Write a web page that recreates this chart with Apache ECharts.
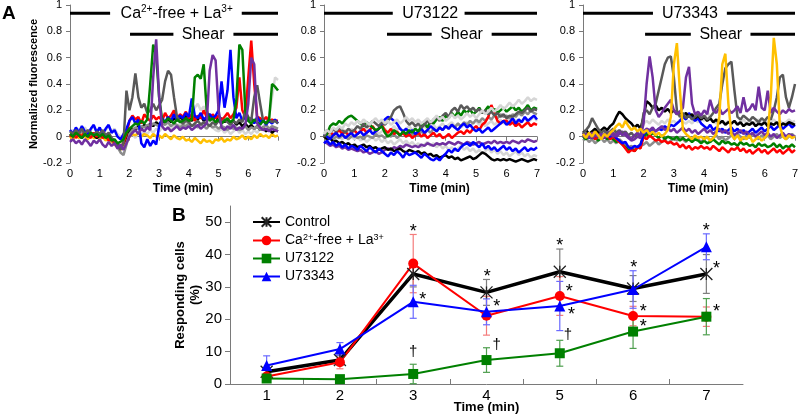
<!DOCTYPE html>
<html><head><meta charset="utf-8">
<script src="https://cdn.jsdelivr.net/npm/echarts@6/dist/echarts.min.js"></script>
<style>html,body{margin:0;padding:0;background:#fff}#c{width:800px;height:416px}</style>
</head><body><div id="c"></div>
<script>
// ---------- time axis of the fluorescence traces (min) ----------
const TIME = [0,0.1,0.2,0.3,0.4,0.5,0.6,0.7,0.8,0.9,1,1.1,1.2,1.3,1.4,1.5,1.6,1.7,1.8,1.9,2,2.1,2.2,2.3,2.4,2.5,2.6,2.7,2.8,2.9,3,3.1,3.2,3.3,3.4,3.5,3.6,3.7,3.8,3.9,4,4.1,4.2,4.3,4.4,4.5,4.6,4.7,4.8,4.9,5,5.1,5.2,5.3,5.4,5.5,5.6,5.7,5.8,5.9,6,6.1,6.2,6.3,6.4,6.5,6.6,6.7,6.8,6.9,7];

// ---------- Panel A1: Ca2+-free + La3+ ----------
const P1_LGRAY = [0.03,0.05,0.02,0.06,0.04,0.07,0.03,0.05,0.08,0.04, 0.06,0.03,0.05,0.08,0.04,0.06,0.02,0.00,-0.02,0.03, 0.00,0.02,-0.01,0.03,0.01,0.04,0.02,0.05,0.03,0.06, 0.04,0.07,0.05,0.08,0.06,0.09,0.07,0.10,0.08,0.11, 0.09,0.15,0.22,0.25,0.20,0.23,0.18,0.10,0.07,0.05, 0.04,0.06,0.03,0.05,0.02,0.04,0.06,0.03,0.05,0.02, 0.04,0.02,0.05,0.03,0.06,0.08,0.10,0.15,0.30,0.45, 0.43];
const P1_ORANGE = [0.00,-0.02,0.01,-0.01,0.02,0.00,-0.02,0.01,-0.01,0.00, -0.02,0.00,-0.03,-0.01,-0.04,-0.06,-0.08,-0.10,-0.07,-0.03, 0.00,0.02,0.01,0.03,0.00,0.02,0.01,-0.01,0.02,0.00, 0.01,-0.01,0.02,0.00,-0.02,0.01,-0.01,-0.02,0.00,-0.03, -0.02,-0.04,-0.01,-0.03,-0.05,-0.02,-0.04,-0.03,-0.05,-0.02, -0.03,-0.01,-0.04,-0.02,-0.03,0.00,-0.02,-0.01,0.01,-0.02, 0.00,-0.02,0.01,-0.01,0.02,0.00,0.01,-0.01,0.02,0.00, 0.01];
const P1_BLACK = [0.02,0.00,0.03,0.01,-0.01,0.02,0.00,0.03,0.01,-0.01, 0.01,0.03,0.00,0.02,-0.02,-0.04,-0.06,-0.08,-0.05,0.00, 0.04,0.06,0.05,0.08,0.06,0.09,0.07,0.10,0.08,0.11, 0.09,0.12,0.10,0.13,0.11,0.14,0.12,0.15,0.13,0.16, 0.14,0.12,0.15,0.13,0.16,0.12,0.14,0.17,0.13,0.15, 0.12,0.14,0.11,0.13,0.10,0.12,0.09,0.11,0.08,0.10, 0.07,0.09,0.06,0.08,0.05,0.07,0.04,0.06,0.03,0.05, 0.04];
const P1_MGRAY = [0.01,0.03,0.00,0.02,0.04,0.01,0.03,0.00,0.02,0.01, 0.03,0.00,0.02,-0.01,-0.03,-0.05,-0.08,-0.12,-0.14,-0.06, 0.02,0.05,0.07,0.06,0.08,0.07,0.09,0.08,0.10,0.09, 0.08,0.10,0.09,0.11,0.08,0.10,0.09,0.07,0.09,0.08, 0.10,0.08,0.09,0.07,0.10,0.08,0.06,0.09,0.07,0.08, 0.06,0.08,0.07,0.05,0.08,0.06,0.07,0.05,0.06,0.08, 0.05,0.07,0.06,0.08,0.05,0.07,0.09,0.06,0.08,0.07, 0.06];
const P1_RED = [0.00,0.03,-0.01,0.02,0.00,0.04,0.01,-0.01,0.03,0.00, 0.02,-0.01,0.01,-0.03,-0.02,-0.05,-0.07,-0.08,-0.05,0.02, 0.12,0.16,0.13,0.15,0.10,0.17,0.14,0.12,0.16,0.13, 0.15,0.12,0.18,0.14,0.16,0.20,0.13,0.17,0.15,0.19, 0.14,0.17,0.12,0.16,0.14,0.20,0.15,0.13,0.17,0.14, 0.16,0.12,0.15,0.18,0.14,0.17,0.22,0.45,0.20,0.15, 0.45,0.73,0.40,0.15,0.14,0.12,0.15,0.11,0.13,0.12, 0.12];
const P1_BLUE = [0.05,0.02,0.07,0.03,0.08,0.04,0.01,0.06,0.09,0.03, 0.07,0.02,0.06,0.09,0.03,0.05,0.00,-0.02,0.02,0.06, 0.12,0.15,0.10,0.13,-0.05,-0.08,-0.02,-0.07,-0.03,-0.06, 0.08,0.14,0.11,0.15,0.12,0.17,0.13,0.16,0.14,0.18, 0.15,0.29,0.16,0.14,0.18,0.13,0.15,0.17,0.14,0.16, 0.20,0.42,0.22,0.35,0.66,0.30,0.14,0.18,0.12,0.15, 0.12,0.14,0.10,0.15,0.11,0.13,0.09,0.12,0.10,0.13, 0.10];
const P1_GREEN = [0.02,0.00,0.03,0.01,-0.01,0.02,0.00,0.03,0.01,0.02, 0.00,0.02,-0.01,0.01,-0.03,-0.02,-0.05,-0.04,-0.02,0.03, 0.06,0.08,0.10,0.09,0.12,0.10,0.13,0.40,0.70,0.62, 0.30,0.13,0.11,0.14,0.12,0.10,0.13,0.11,0.12,0.14, 0.12,0.13,0.45,0.47,0.44,0.55,0.20,0.12,0.14,0.11, 0.13,0.10,0.12,0.14,0.11,0.13,0.28,0.70,0.66,0.20, 0.12,0.10,0.13,0.11,0.09,0.12,0.10,0.13,0.40,0.38, 0.35];
const P1_PURPLE = [-0.04,-0.02,-0.05,-0.03,-0.06,-0.02,-0.04,-0.07,-0.03,-0.05, -0.02,-0.06,-0.08,-0.04,-0.07,-0.05,-0.09,-0.06,-0.10,-0.05, 0.00,0.03,0.05,0.02,0.06,0.04,0.07,0.05,0.45,0.74, 0.30,0.08,0.05,0.07,0.04,0.06,0.08,0.05,0.07,0.06, 0.08,0.05,0.07,0.09,0.06,0.08,0.10,0.50,0.62,0.58, 0.20,0.07,0.05,0.08,0.06,0.09,0.05,0.07,0.06,0.09, 0.25,0.60,0.55,0.10,0.07,0.05,0.06,0.04,0.06,0.05, 0.04];
const P1_DGRAY = [0.04,0.02,0.05,0.03,0.06,0.02,0.05,0.03,0.01,0.04, 0.02,0.05,0.01,0.03,-0.01,-0.03,-0.06,-0.10,-0.05,0.35, 0.20,0.30,0.48,0.30,0.22,0.25,0.18,0.20,0.25,0.20, 0.24,0.28,0.42,0.50,0.47,0.30,0.15,0.12,0.10,0.12, 0.11,0.08,0.10,0.12,0.09,0.11,0.10,0.08,0.11,0.09, 0.12,0.10,0.13,0.11,0.09,0.12,0.10,0.13,0.11,0.20, 0.15,0.12,0.30,0.39,0.25,0.12,0.10,0.13,0.11,0.12, 0.10];

// ---------- Panel A2: U73122 ----------
const P2_LGRAY2 = [0.00,-0.02,0.01,-0.01,0.02,0.00,-0.02,0.01,-0.01,0.00, -0.02,0.00,-0.03,-0.01,-0.04,-0.02,0.00,-0.03,-0.01,-0.04, -0.02,-0.05,-0.03,-0.06,-0.04,-0.02,-0.05,-0.03,-0.06,-0.04, -0.07,-0.05,-0.08,-0.06,-0.04,-0.07,-0.05,-0.08,-0.06,-0.09, -0.07,-0.10,-0.08,-0.11,-0.09,-0.07,-0.10,-0.08,-0.11,-0.09, -0.12,-0.10,-0.13,-0.11,-0.09,-0.12,-0.10,-0.13,-0.11,-0.14, -0.12,-0.15,-0.13,-0.11,-0.14,-0.12,-0.15,-0.13,-0.16,-0.14, -0.15];
const P2_LGRAY3 = [0.04,0.02,0.05,0.03,0.06,0.04,0.02,0.05,0.03,0.06, 0.04,0.02,0.05,0.07,0.04,0.06,0.03,0.05,0.02,0.04, 0.06,0.03,0.05,0.08,0.05,0.07,0.04,0.06,0.08,0.05, 0.07,0.09,0.06,0.08,0.05,0.07,0.09,0.06,0.08,0.10, 0.07,0.09,0.11,0.08,0.10,0.07,0.09,0.11,0.08,0.10, 0.12,0.09,0.11,0.08,0.10,0.12,0.09,0.11,0.13,0.10, 0.12,0.14,0.11,0.13,0.10,0.12,0.14,0.11,0.13,0.15, 0.12];
const P2_MGRAY = [0.00,-0.01,0.01,-0.02,0.00,-0.01,0.01,0.00,-0.02,0.00, 0.01,-0.01,0.00,-0.02,0.01,0.00,-0.01,0.02,0.00,0.01, -0.01,0.01,0.00,0.02,-0.01,0.01,0.03,0.00,0.02,0.01, 0.03,0.01,0.04,0.02,0.05,0.03,0.06,0.04,0.07,0.05, 0.08,0.06,0.09,0.07,0.10,0.08,0.11,0.09,0.12,0.10, 0.13,0.11,0.14,0.12,0.15,0.13,0.16,0.14,0.17,0.15, 0.16,0.14,0.17,0.15,0.18,0.16,0.19,0.17,0.20,0.18, 0.17];
const P2_PURPLE = [-0.04,-0.05,-0.07,-0.06,-0.08,-0.07,-0.09,-0.08,-0.10,-0.09, -0.10,-0.11,-0.10,-0.12,-0.11,-0.13,-0.12,-0.11,-0.13,-0.12, -0.10,-0.09,-0.10,-0.08,-0.09,-0.07,-0.08,-0.06,-0.07,-0.08, -0.07,-0.08,-0.06,-0.07,-0.05,-0.06,-0.07,-0.05,-0.06,-0.05, -0.06,-0.04,-0.05,-0.06,-0.04,-0.05,-0.06,-0.04,-0.05,-0.06, -0.05,-0.04,-0.06,-0.05,-0.04,-0.05,-0.03,-0.05,-0.04,-0.05, -0.04,-0.05,-0.03,-0.04,-0.05,-0.03,-0.04,-0.02,-0.03,-0.04, -0.03];
const P2_BLACK = [0.00,-0.02,-0.01,-0.04,-0.03,-0.05,-0.04,-0.06,-0.05,-0.07, -0.06,-0.08,-0.07,-0.06,-0.08,-0.07,-0.09,-0.08,-0.10,-0.09, -0.08,-0.10,-0.09,-0.11,-0.10,-0.09,-0.11,-0.12,-0.10,-0.11, -0.12,-0.11,-0.13,-0.12,-0.14,-0.13,-0.15,-0.14,-0.16,-0.15, -0.14,-0.16,-0.15,-0.17,-0.16,-0.18,-0.17,-0.16,-0.15,-0.17, -0.16,-0.14,-0.12,-0.13,-0.15,-0.17,-0.18,-0.17,-0.18,-0.17, -0.18,-0.17,-0.18,-0.19,-0.18,-0.17,-0.18,-0.19,-0.18,-0.17, -0.18];
const P2_BLUE2 = [-0.05,-0.03,-0.06,-0.04,-0.07,-0.05,-0.08,-0.06,-0.09,-0.07, -0.08,-0.10,-0.07,-0.09,-0.11,-0.08,-0.10,-0.12,-0.09,-0.11, -0.13,-0.15,-0.12,-0.14,-0.11,-0.13,-0.16,-0.12,-0.14,-0.13, -0.12,-0.14,-0.16,-0.13,-0.15,-0.17,-0.18,-0.16,-0.18,-0.15, -0.13,-0.10,-0.12,-0.09,-0.11,-0.08,-0.06,-0.05,-0.07,-0.04, -0.06,-0.08,-0.05,-0.09,-0.07,-0.10,-0.08,-0.11,-0.09,-0.07, -0.10,-0.08,-0.11,-0.09,-0.12,-0.10,-0.08,-0.11,-0.09,-0.10, -0.08];
const P2_RED = [0.00,0.02,0.04,0.01,0.03,0.05,0.02,0.04,0.01,0.03, 0.05,0.02,0.04,0.06,0.03,0.05,0.08,0.04,0.06,0.09, 0.05,0.03,0.06,0.02,0.04,0.01,0.03,0.00,0.02,-0.01, 0.01,0.03,0.00,0.02,-0.01,0.01,0.03,0.00,0.02,-0.01, 0.00,0.02,-0.01,0.01,0.03,0.04,0.02,0.05,0.03,0.06, 0.08,0.05,0.09,0.11,0.15,0.24,0.18,0.12,0.10,0.12, 0.12,0.09,0.11,0.08,0.10,0.07,0.09,0.11,0.08,0.10, 0.09];
const P2_BLUE1 = [0.02,0.00,-0.02,0.01,0.03,0.00,0.02,-0.01,0.01,0.03, 0.00,0.02,0.04,0.01,0.03,0.05,0.02,0.04,0.06,0.10, 0.13,0.15,0.14,0.12,0.10,0.06,0.04,0.06,0.03,0.05, 0.02,0.04,0.06,0.03,0.05,0.08,0.06,0.04,0.07,0.05, 0.08,0.06,0.09,0.07,0.05,0.08,0.10,0.07,0.09,0.06, 0.04,0.06,0.03,0.05,0.07,0.04,0.06,0.08,0.10,0.12, 0.09,0.11,0.14,0.10,0.13,0.11,0.15,0.12,0.14,0.16, 0.13];
const P2_GREEN = [0.00,0.02,0.08,0.10,0.09,0.12,0.10,0.13,0.15,0.16, 0.14,0.12,0.10,0.08,0.11,0.09,0.07,0.05,0.06,0.08, 0.03,0.00,0.02,0.05,0.03,0.01,0.04,0.02,0.05,0.03, 0.06,0.04,0.08,0.10,0.07,0.12,0.10,0.13,0.15,0.12, 0.16,0.14,0.18,0.15,0.19,0.16,0.20,0.18,0.21,0.17, 0.19,0.22,0.18,0.20,0.23,0.19,0.21,0.18,0.20,0.22, 0.19,0.21,0.23,0.20,0.22,0.19,0.21,0.24,0.20,0.22, 0.21];
const P2_DGRAY = [0.00,0.05,0.03,0.06,0.04,0.07,0.05,0.03,0.06,0.04, 0.05,0.08,0.06,0.10,0.07,0.09,0.12,0.10,0.08,0.11, 0.09,0.12,0.15,0.20,0.22,0.23,0.18,0.12,0.09,0.11, 0.08,0.10,0.07,0.09,0.12,0.10,0.13,0.15,0.12,0.16, 0.18,0.15,0.20,0.22,0.19,0.24,0.21,0.23,0.20,0.22, 0.19,0.21,0.18,0.20,0.17,0.19,0.16,0.18,0.15,0.17, 0.14,0.16,0.15,0.17,0.19,0.18,0.20,0.22,0.19,0.21, 0.20];
const P2_LGRAY1 = [0.02,0.05,0.03,0.07,0.05,0.08,0.06,0.10,0.08,0.11, 0.09,0.12,0.10,0.13,0.11,0.09,0.12,0.14,0.11,0.13, 0.10,0.12,0.09,0.11,0.13,0.10,0.12,0.15,0.12,0.14, 0.11,0.13,0.10,0.12,0.14,0.11,0.13,0.16,0.13,0.15, 0.12,0.14,0.17,0.14,0.16,0.13,0.15,0.18,0.15,0.17, 0.14,0.17,0.20,0.17,0.19,0.22,0.19,0.21,0.24,0.21, 0.23,0.26,0.23,0.25,0.28,0.25,0.27,0.30,0.27,0.29, 0.28];

// ---------- Panel A3: U73343 ----------
const P3_MGRAY = [-0.03,-0.01,-0.04,-0.02,-0.05,-0.03,-0.01,-0.04,-0.02,-0.05, -0.03,-0.05,-0.02,-0.04,-0.06,-0.08,-0.07,-0.09,-0.08,-0.07, -0.06,-0.04,-0.07,-0.05,-0.03,-0.06,-0.04,-0.02,-0.05,-0.03, -0.01,-0.03,0.00,-0.02,-0.04,-0.01,-0.03,0.00,-0.02,-0.04, -0.02,0.00,-0.03,-0.01,0.01,-0.02,0.00,-0.03,-0.01,0.01, -0.01,0.02,0.00,-0.02,0.01,-0.01,0.02,0.00,-0.02,0.01, -0.01,0.01,-0.02,0.00,0.02,-0.01,0.01,-0.02,0.00,0.02, 0.00];
const P3_GREEN = [0.00,-0.02,0.01,-0.01,0.00,-0.03,-0.01,0.01,-0.02,0.00, -0.02,-0.04,-0.03,-0.06,-0.08,-0.10,-0.09,-0.11,-0.08,-0.06, 0.00,0.02,0.00,0.03,0.01,-0.01,0.01,-0.02,0.00,-0.01, -0.02,0.00,-0.03,-0.01,-0.03,-0.02,-0.04,-0.02,-0.03,-0.05, -0.03,-0.05,-0.04,-0.02,-0.04,-0.06,-0.03,-0.05,-0.04,-0.06, -0.05,-0.07,-0.04,-0.06,-0.05,-0.07,-0.06,-0.08,-0.05,-0.07, -0.06,-0.08,-0.07,-0.05,-0.08,-0.06,-0.09,-0.07,-0.08,-0.06, -0.08];
const P3_RED = [0.00,0.02,-0.01,0.01,-0.02,0.00,0.02,-0.01,0.01,-0.02, 0.00,-0.02,-0.04,-0.06,-0.09,-0.12,-0.10,-0.11,-0.08,-0.09, 0.00,-0.02,0.01,-0.01,-0.03,-0.02,-0.04,-0.03,-0.05,-0.04, -0.06,-0.05,-0.08,-0.06,-0.09,-0.07,-0.10,-0.08,-0.09,-0.07, -0.09,-0.08,-0.10,-0.07,-0.09,-0.11,-0.08,-0.10,-0.12,-0.09, -0.10,-0.08,-0.11,-0.09,-0.12,-0.10,-0.13,-0.11,-0.09,-0.12, -0.10,-0.13,-0.11,-0.09,-0.12,-0.10,-0.13,-0.11,-0.09,-0.12, -0.10];
const P3_LGRAY = [0.03,0.05,0.02,0.04,0.06,0.03,0.05,0.02,0.04,0.01, 0.03,0.05,0.02,0.04,0.01,0.00,-0.02,0.00,0.01,0.00, 0.10,0.12,0.10,0.13,0.11,0.09,0.12,0.10,0.13,0.11, 0.12,0.10,0.13,0.11,0.10,0.12,0.10,0.13,0.11,0.14, 0.12,0.20,0.14,0.12,0.10,0.13,0.11,0.10,0.12,0.10, 0.12,0.10,0.11,0.13,0.10,0.12,0.10,0.11,0.13,0.10, 0.12,0.10,0.11,0.13,0.10,0.12,0.10,0.11,0.13,0.11, 0.12];
const P3_BLUE = [0.00,0.02,-0.01,0.01,0.03,0.00,0.02,-0.01,0.01,0.00, 0.02,-0.01,-0.03,-0.05,-0.04,-0.08,-0.09,-0.07,-0.08,-0.06, 0.02,0.04,0.03,0.05,0.04,0.06,0.05,0.08,0.06,0.09, 0.08,0.10,0.12,0.15,0.13,0.18,0.15,0.12,0.14,0.10, 0.08,0.06,0.09,0.05,0.07,0.04,0.06,0.03,0.05,0.07, 0.04,0.06,0.03,0.05,0.02,0.04,0.06,0.03,0.05,0.07, 0.04,0.06,0.08,0.05,0.07,0.09,0.06,0.08,0.10,0.07, 0.09];
const P3_PURPLE2 = [0.03,0.00,0.02,-0.01,0.01,0.03,0.00,0.02,0.04,0.01, 0.03,0.00,0.02,0.04,0.01,-0.01,-0.03,-0.02,0.00,-0.01, 0.04,0.06,0.05,0.07,0.04,0.06,0.08,0.05,0.07,0.04, 0.06,0.03,0.05,0.07,0.04,0.06,0.03,0.05,0.02,0.04, 0.06,0.03,0.05,0.02,0.04,0.06,0.03,0.05,0.02,0.04, 0.01,0.03,0.05,0.02,0.04,0.01,0.03,0.00,0.02,0.04, 0.01,0.03,0.00,0.02,-0.01,0.01,0.03,0.00,0.02,0.01, 0.00];
const P3_BLACK = [0.03,0.05,0.02,0.04,0.06,0.03,0.05,0.07,0.05,0.08, 0.10,0.15,0.19,0.17,0.14,0.12,0.10,0.07,0.09,0.06, 0.15,0.27,0.25,0.22,0.24,0.20,0.22,0.19,0.21,0.18, 0.20,0.17,0.19,0.16,0.18,0.15,0.17,0.14,0.16,0.13, 0.15,0.12,0.14,0.11,0.13,0.10,0.12,0.09,0.11,0.10, 0.12,0.09,0.11,0.08,0.10,0.09,0.11,0.08,0.10,0.09, 0.11,0.08,0.10,0.09,0.11,0.08,0.10,0.09,0.11,0.10, 0.09];
const P3_DGRAY = [0.02,0.05,0.08,0.14,0.10,0.06,0.03,0.05,0.02,0.04, 0.06,0.03,0.05,0.02,0.04,0.01,0.03,0.00,0.02,0.01, 0.18,0.20,0.17,0.22,0.25,0.35,0.45,0.55,0.60,0.61, 0.45,0.20,0.15,0.18,0.14,0.16,0.13,0.15,0.17,0.14, 0.16,0.13,0.15,0.18,0.22,0.25,0.40,0.52,0.55,0.57, 0.35,0.15,0.13,0.16,0.14,0.12,0.15,0.13,0.11,0.14, 0.12,0.15,0.13,0.20,0.30,0.45,0.47,0.30,0.22,0.30, 0.40];
const P3_PURPLE1 = [0.00,0.02,-0.01,0.03,0.01,0.00,0.02,-0.01,0.01,0.03, 0.00,0.02,0.04,0.01,0.03,0.00,-0.02,0.01,0.03,0.00, 0.10,0.40,0.61,0.45,0.20,0.15,0.18,0.22,0.25,0.28, 0.20,0.17,0.19,0.22,0.45,0.53,0.25,0.17,0.19,0.16, 0.20,0.17,0.28,0.20,0.18,0.22,0.17,0.19,0.21,0.18, 0.20,0.23,0.18,0.30,0.19,0.21,0.25,0.20,0.38,0.22, 0.20,0.35,0.18,0.22,0.19,0.17,0.20,0.18,0.21,0.19, 0.20];
const P3_ORANGE = [0.02,-0.01,0.03,0.00,0.04,0.01,-0.02,0.02,0.00,0.03, 0.05,0.08,0.10,0.07,0.12,0.08,0.05,0.07,0.04,0.06, 0.03,0.05,0.02,0.04,0.01,0.03,0.00,0.02,0.05,0.15, 0.55,0.71,0.35,0.05,0.02,0.00,-0.02,0.01,-0.01,0.00, -0.02,0.00,-0.03,-0.01,0.02,0.15,0.55,0.63,0.25,0.02, -0.02,0.01,-0.03,0.00,-0.02,0.01,-0.04,-0.02,0.00,-0.03, -0.01,0.02,0.30,0.75,0.55,0.08,0.00,-0.02,0.01,-0.01, 0.00];

// treatment / shear bars: [start, end, level] and their labels
const BAR_SEGS = [
  [[0,1.35,0.937],[5.78,7,0.937],[2.02,3.48,0.778],[5.5,7,0.778]],
  [[0,2.26,0.937],[4.62,7,0.937],[2.07,3.54,0.778],[5.51,7,0.778]],
  [[0,2.31,0.937],[4.75,7,0.937],[2.05,3.56,0.778],[5.53,7,0.778]]
];
const BAR_LABEL_POS = [
  [[3.59,0.937],[4.48,0.778]],
  [[3.49,0.937],[4.52,0.778]],
  [[3.53,0.937],[4.55,0.778]]
];
const BAR_LABELS = [
  ['{m|Ca}{s|2+}{m|-free + La}{s|3+}','{m|Shear}'],
  ['{m|U73122}','{m|Shear}'],
  ['{m|U73343}','{m|Shear}']
];

// ---------- Panel B ----------
const MINUTES = [1,2,3,4,5,6,7];
const MIN_TICKS = [1.5,2.5,3.5,4.5,5.5,6.5];
const Y_TICKS = [0,10,20,30,40,50];
const CONTROL = [3.8,7.4,34.0,28.3,34.7,29.5,34.0];
const CONTROL_ERR = [1.0,1.5,4.0,4.0,7.0,4.0,6.0];
const CAFREE = [2.3,6.7,37.2,21.1,27.2,21.0,20.8];
const CAFREE_ERR = [1.0,2.0,9.0,6.0,6.0,3.0,3.0];
const U73122 = [1.7,1.5,3.1,7.4,9.5,16.2,20.8];
const U73122_ERR = [0.5,0.5,3.0,3.8,4.0,5.2,5.6];
const U73343 = [5.7,10.8,25.4,22.3,24.1,29.2,42.4];
const U73343_ERR = [3.0,2.0,5.1,4.0,7.6,5.8,4.0];
const SIG_X = [3,3,3.13,4.01,4.14,4.14,5.0,5.13,5.16,5.11,6.01,6.14,6.14,7.0,7.14,7.14];
const SIG_Y = [48.2,10,27.3,34.4,24.9,12,43.9,29.5,22.6,15.1,37.2,23.4,18.9,48.6,36.9,23.4];
const SIG_T = ['*','†','*','*','*','†','*','*','*','†','*','*','*','*','*','*'];

// ---------- styling ----------
const FONT = '"Liberation Sans", Arial, sans-serif';
const AX = '#7a7a7a';
const C = {blue:'#0000ff', red:'#ff0000', green:'#008000', purple:'#7030a0', dgray:'#595959', lgray:'#d6d6d6', orange:'#ffc000', black:'#000000', mgray:'#8c8c8c'};

const PANELS = [
  [[P1_LGRAY,'lgray'],[P1_ORANGE,'orange'],[P1_BLACK,'black'],[P1_MGRAY,'mgray'],[P1_RED,'red'],[P1_BLUE,'blue'],[P1_DGRAY,'dgray'],[P1_GREEN,'green'],[P1_PURPLE,'purple']],
  [[P2_LGRAY2,'lgray'],[P2_LGRAY3,'lgray'],[P2_MGRAY,'mgray'],[P2_PURPLE,'purple'],[P2_BLACK,'black'],[P2_BLUE2,'blue'],[P2_RED,'red'],[P2_BLUE1,'blue'],[P2_GREEN,'green'],[P2_DGRAY,'dgray'],[P2_LGRAY1,'lgray']],
  [[P3_MGRAY,'mgray'],[P3_GREEN,'green'],[P3_RED,'red'],[P3_LGRAY,'lgray'],[P3_BLUE,'blue'],[P3_PURPLE2,'purple'],[P3_BLACK,'black'],[P3_DGRAY,'dgray'],[P3_PURPLE1,'purple'],[P3_ORANGE,'orange']]
];

const GRIDS = [
  {left:70, top:5, width:208, height:158},
  {left:324, top:5, width:213, height:158},
  {left:583, top:5, width:212, height:158},
  {left:230, top:206, width:513, height:178}
];

const series = [];
PANELS.forEach((traces, gi) => {
  traces.forEach(([vals, col]) => {
    series.push({type:'line', xAxisIndex:gi, yAxisIndex:gi, data: TIME.map((t,i)=>[t, vals[i]]),
      symbol:'none', silent:true, lineStyle:{color:C[col], width:2.5}, itemStyle:{color:C[col]}, z:2});
  });
  series.push({type:'custom', xAxisIndex:gi, yAxisIndex:gi, data: BAR_SEGS[gi], encode:{x:[0,1], y:2}, silent:true, z:5,
    renderItem:(p, api) => {
      const a = api.coord([api.value(0), api.value(2)]);
      const b = api.coord([api.value(1), api.value(2)]);
      return {type:'line', shape:{x1:a[0], y1:a[1], x2:b[0], y2:b[1]}, style:{stroke:'#000', lineWidth:3}};
    }});
  series.push({type:'custom', xAxisIndex:gi, yAxisIndex:gi, data: BAR_LABEL_POS[gi], encode:{x:0, y:1}, silent:true, z:5,
    renderItem:(p, api) => {
      const a = api.coord([api.value(0), api.value(1)]);
      return {type:'text', x:a[0], y:a[1], style:{text: BAR_LABELS[gi][p.dataIndex], align:'center', verticalAlign:'middle', fill:'#000',
        rich:{m:{fontSize:16, fontFamily:FONT, lineHeight:18, fill:'#000'}, s:{fontSize:10, fontFamily:FONT, lineHeight:10, verticalAlign:'top', fill:'#000'}}}};
    }});
});

function errSeries(vals, errs, color){
  return {type:'custom', xAxisIndex:3, yAxisIndex:3, silent:true, z:1,
    data: MINUTES.map((m,i)=>[m, vals[i], errs[i]]), encode:{x:0, y:1},
    renderItem:(p, api) => {
      const x = api.value(0), y = api.value(1), e = api.value(2);
      const t = api.coord([x, y+e]), b = api.coord([x, y-e]);
      const st = {stroke:color, lineWidth:1.2};
      return {type:'group', children:[
        {type:'line', shape:{x1:t[0], y1:t[1], x2:b[0], y2:b[1]}, style:st},
        {type:'line', shape:{x1:t[0]-3.5, y1:t[1], x2:t[0]+3.5, y2:t[1]}, style:st},
        {type:'line', shape:{x1:b[0]-3.5, y1:b[1], x2:b[0]+3.5, y2:b[1]}, style:st}
      ]};
    }};
}
series.push(errSeries(CONTROL, CONTROL_ERR, '#7f7f7f'));
series.push(errSeries(CAFREE, CAFREE_ERR, '#f47c7c'));
series.push(errSeries(U73122, U73122_ERR, '#4f9f4f'));
series.push(errSeries(U73343, U73343_ERR, '#6a6aff'));

function mainSeries(name, vals, color, symbol, size, width, extra){
  return Object.assign({name, type:'line', xAxisIndex:3, yAxisIndex:3, data: MINUTES.map((m,i)=>[m, vals[i]]),
    symbol, symbolSize:size, lineStyle:{color, width}, itemStyle:{color}, z:3}, extra||{});
}
series.push(mainSeries('Control', CONTROL, '#000', 'path://M0,0L10,10M10,0L0,10M5,0L5,10', 12, 3.5,
  {itemStyle:{color:'#000', borderColor:'#222', borderWidth:1.3}}));
series.push(mainSeries('Ca2+-free + La3+', CAFREE, '#ff0000', 'circle', 10, 2));
series.push(mainSeries('U73122', U73122, '#008000', 'rect', 10, 2));
series.push(mainSeries('U73343', U73343, '#0000ff', 'triangle', 11, 2));

series.push({type:'custom', xAxisIndex:3, yAxisIndex:3, silent:true, z:6,
  data: SIG_X.map((x,i)=>[x, SIG_Y[i]]), encode:{x:0, y:1},
  renderItem:(p, api) => {
    const a = api.coord([api.value(0), api.value(1)]);
    const t = SIG_T[p.dataIndex];
    return {type:'text', x:a[0], y:a[1] + (t === '*' ? 4 : 0),
      style:{text:t, align:'center', verticalAlign:'middle', fill:'#000', font:(t === '*' ? '18px ' : '15px ') + FONT}};
  }});

const xAxes = [0,1,2].map(gi => ({gridIndex:gi, type:'value', min:0, max:7, interval:1,
  axisLine:{show:true, lineStyle:{color:AX, width:1}}, axisTick:{show:true, length:4, lineStyle:{color:AX}},
  splitLine:{show:false}, axisLabel:{fontSize:11, color:'#000', fontFamily:FONT, margin:5},
  name:'Time (min)', nameLocation:'middle', nameGap:20, nameMoveOverlap:false,
  nameTextStyle:{fontSize:12, fontWeight:'bold', color:'#000', fontFamily:FONT, padding:[0,0,0,18]}}));
xAxes.push({gridIndex:3, type:'value', min:0.5, max:7.5,
  axisLine:{show:true, lineStyle:{color:AX, width:1}},
  axisTick:{show:true, inside:true, length:5, customValues:MIN_TICKS, lineStyle:{color:AX}},
  splitLine:{show:false}, axisLabel:{fontSize:15, color:'#000', fontFamily:FONT, margin:4, customValues:MINUTES},
  name:'Time (min)', nameLocation:'middle', nameGap:17, nameMoveOverlap:false,
  nameTextStyle:{fontSize:13, fontWeight:'bold', color:'#000', fontFamily:FONT}});

const yAxes = [0,1,2].map(gi => ({gridIndex:gi, type:'value', min:-0.2, max:1, interval:0.2,
  axisLine:{show:true, lineStyle:{color:AX, width:1}}, axisTick:{show:true, length:4, lineStyle:{color:AX}},
  splitLine:{show:false}, axisLabel:{fontSize:11, color:'#000', fontFamily:FONT, margin:8},
  name: gi === 0 ? 'Normalized fluorescence' : '', nameLocation:'middle', nameGap:28,
  nameTextStyle:{fontSize:11, fontWeight:'bold', color:'#000', fontFamily:FONT}}));
yAxes.push({gridIndex:3, type:'value', min:0, max:55, interval:10,
  axisLine:{show:true, lineStyle:{color:AX, width:1}},
  axisTick:{show:true, length:5, customValues:Y_TICKS, lineStyle:{color:AX}},
  splitLine:{show:false}, axisLabel:{fontSize:15, color:'#000', fontFamily:FONT, margin:8, customValues:Y_TICKS},
  name:'Responding cells\n(%)', nameLocation:'middle', nameGap:27, nameMoveOverlap:false,
  nameTextStyle:{fontSize:13, fontWeight:'bold', color:'#000', fontFamily:FONT, lineHeight:15}});

const option = {
  animation:false,
  backgroundColor:'#fff',
  grid: GRIDS.map(g => Object.assign({outerBoundsMode:'none', containLabel:false}, g)),
  xAxis: xAxes,
  yAxis: yAxes,
  legend: {show:true, orient:'vertical', left:247, top:210, itemWidth:27, itemHeight:12, itemGap:4,
    data:['Control','Ca2+-free + La3+','U73122','U73343'],
    formatter: n => n === 'Ca2+-free + La3+' ? '{m|Ca}{s|2+}{m|-free + La}{s|3+}' : '{m|' + n + '}',
    textStyle:{fontSize:14, color:'#000', fontFamily:FONT,
      rich:{m:{fontSize:14, fontFamily:FONT, color:'#000', lineHeight:15}, s:{fontSize:9, fontFamily:FONT, color:'#000', lineHeight:9, verticalAlign:'top'}}}},
  graphic: [
    {type:'text', left:2, top:4, style:{text:'A', font:'bold 19px ' + FONT, fill:'#000'}},
    {type:'text', left:172, top:206, style:{text:'B', font:'bold 19px ' + FONT, fill:'#000'}}
  ],
  series
};
const chart = echarts.init(document.getElementById('c'), null, {renderer:'canvas'});
chart.setOption(option);
</script></body></html>
